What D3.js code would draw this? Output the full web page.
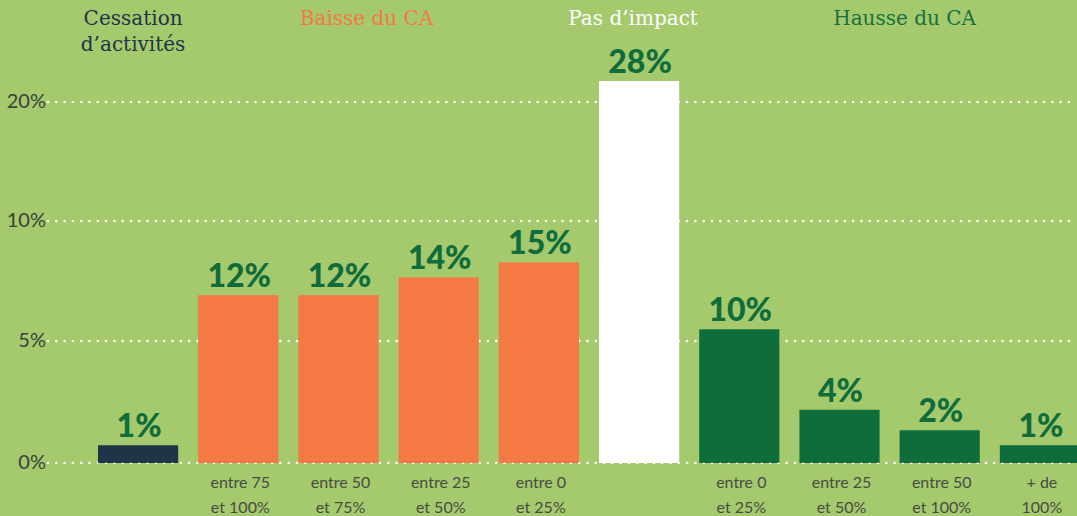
<!DOCTYPE html>
<html>
<head>
<meta charset="utf-8">
<script src="https://cdn.jsdelivr.net/npm/d3@7"></script>
<style>
  html, body { margin: 0; padding: 0; background: #a5c96d; overflow: hidden; }
  svg { display: block; }
</style>
</head>
<body>
<svg id="chart"></svg>
<script>
// data
var barValues = [1.3, 12.3, 12.3, 13.6, 14.7, 28.0, 9.8, 3.9, 2.4, 1.3];
var barGroups = ["cessation", "baisse", "baisse", "baisse", "baisse", "neutre", "hausse", "hausse", "hausse", "hausse"];
var barLabels = [
   [],
   ["entre 75", "et 100%"],
   ["entre 50", "et 75%"],
   ["entre 25", "et 50%"],
   ["entre 0", "et 25%"],
   [],
   ["entre 0", "et 25%"],
   ["entre 25", "et 50%"],
   ["entre 50", "et 100%"],
   ["+ de", "100%"],
];
var groupKeys = ["cessation", "baisse", "neutre", "hausse"];
var groupTitles = [["Cessation", "d\u2019activités"], ["Baisse du CA"], ["Pas d\u2019impact"], ["Hausse du CA"]];
var tickValues = [0, 5, 10, 20];
var tickLabels = ["0%", "5%", "10%", "20%"];

var width = 1077,
   height = 516;
var baseline = 463;

var colors = {
   cessation: "#1f3547",
   baisse: "#f47943",
   neutre: "#ffffff",
   hausse: "#0f6c3b",
};
var titleColors = {
   cessation: "#1f3547",
   baisse: "#f47943",
   neutre: "#ffffff",
   hausse: "#17703f",
};
// small nudges so the titles sit where the original put them
var titleDx = { cessation: -5, baisse: -22, neutre: -6, hausse: 15 };

var svg = d3.select("svg#chart").attr("width", width).attr("height", height);

var idx = d3.range(barValues.length);

var x = d3.scaleBand().domain(idx).range([88, 1090]).paddingInner(0.2).paddingOuter(0.1);

// bars follow their own linear scale
var y = d3.scaleLinear().domain([0, 28]).range([baseline, 81]);

// the printed axis is not linear: 0, 5, 10, 20 are roughly evenly spaced
var yAxisScale = d3.scaleLinear().domain(tickValues).range([baseline, 341, 221, 102]);

// dotted grid lines
var grid = svg.append("g").attr("class", "grid");
grid
   .selectAll("line")
   .data(tickValues)
   .join("line")
   .attr("x1", 48)
   .attr("x2", width)
   .attr("y1", function (d) {
      return yAxisScale(d);
   })
   .attr("y2", function (d) {
      return yAxisScale(d);
   })
   .attr("stroke", "#ffffff")
   .attr("stroke-width", 2.6)
   .attr("stroke-linecap", "round")
   .attr("stroke-dasharray", "0 8.3");

// tick labels
svg.append("g")
   .selectAll("text")
   .data(tickValues)
   .join("text")
   .attr("x", 46)
   .attr("y", function (d) {
      return yAxisScale(d) + 1;
   })
   .attr("text-anchor", "end")
   .attr("dominant-baseline", "middle")
   .style("font-family", "Lato, sans-serif")
   .style("font-size", "20px")
   .style("fill", "#3b3f3a")
   .text(function (d, i) {
      return tickLabels[i];
   });

// bars
svg.append("g")
   .selectAll("rect")
   .data(idx)
   .join("rect")
   .attr("x", function (i) {
      return x(i);
   })
   .attr("y", function (i) {
      return y(barValues[i]);
   })
   .attr("width", x.bandwidth())
   .attr("height", function (i) {
      return baseline - y(barValues[i]);
   })
   .attr("fill", function (i) {
      return colors[barGroups[i]];
   });

// baseline dots show faintly over the bar bottoms
svg.append("line")
   .attr("x1", 48)
   .attr("x2", width)
   .attr("y1", yAxisScale(0))
   .attr("y2", yAxisScale(0))
   .attr("stroke", "#ffffff")
   .attr("stroke-opacity", 0.6)
   .attr("stroke-width", 1.6)
   .attr("stroke-linecap", "round")
   .attr("stroke-dasharray", "0 8.3");

// value labels
svg.append("g")
   .selectAll("text")
   .data(idx)
   .join("text")
   .attr("x", function (i) {
      return x(i) + x.bandwidth() / 2 + 1;
   })
   .attr("y", function (i) {
      return y(barValues[i]) - 8;
   })
   .attr("text-anchor", "middle")
   .style("font-family", "Lato, sans-serif")
   .style("font-weight", 900)
   .style("font-size", "32px")
   .style("fill", "#0f6c3b")
   .text(function (i) {
      return Math.round(barValues[i]) + "%";
   });

// category labels under the bars
var catLabels = svg
   .append("g")
   .selectAll("text")
   .data(idx)
   .join("text")
   .attr("x", function (i) {
      return x(i) + x.bandwidth() / 2 + 2;
   })
   .attr("text-anchor", "middle")
   .style("font-family", "Lato, sans-serif")
   .style("font-size", "16px")
   .style("fill", "#474c43");
catLabels
   .selectAll("tspan")
   .data(function (i) {
      return barLabels[i];
   })
   .join("tspan")
   .attr("x", function () {
      return d3.select(this.parentNode).attr("x");
   })
   .attr("y", function (d, j) {
      return 488 + j * 25;
   })
   .text(function (d) {
      return d;
   });

// group titles
var titles = svg
   .append("g")
   .selectAll("text")
   .data(groupKeys)
   .join("text")
   .attr("x", function (g) {
      var members = idx.filter(function (i) {
         return barGroups[i] === g;
      });
      var c = d3.mean(members, function (i) {
         return x(i) + x.bandwidth() / 2;
      });
      return c + titleDx[g];
   })
   .attr("text-anchor", "middle")
   .style("font-family", "'DejaVu Serif', serif")
   .style("font-size", "20px")
   .style("fill", function (g) {
      return titleColors[g];
   });
titles
   .selectAll("tspan")
   .data(function (g, k) {
      return groupTitles[k];
   })
   .join("tspan")
   .attr("x", function () {
      return d3.select(this.parentNode).attr("x");
   })
   .attr("y", function (d, j) {
      return 25 + j * 26;
   })
   .text(function (d) {
      return d;
   });
</script>
</body>
</html>
